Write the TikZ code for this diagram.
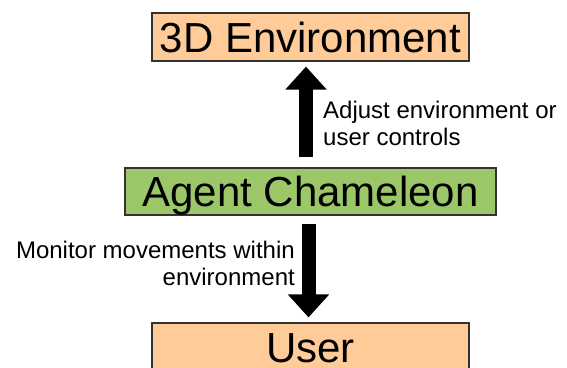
\documentclass[tikz,border=0pt]{standalone}
\usepackage{fontspec}
\setmainfont{Liberation Sans}
\usetikzlibrary{arrows.meta, positioning}
\definecolor{peach}{RGB}{255,204,153}
\definecolor{leaf}{RGB}{155,199,105}
\definecolor{edgegray}{RGB}{50,50,50}

\tikzset{
  block/.style={draw=edgegray, line width=1.2pt, inner sep=0pt, text height=30pt, text depth=0pt,
    font=\fontsize{42}{48}\selectfont},
  flow/.style={line width=14pt, -{Triangle[width=40pt, length=23pt]}},
  note/.style={inner sep=0pt, font=\fontsize{24}{27}\selectfont}
}

\begin{document}
\begin{tikzpicture}[x=1pt, y=-1pt]
  \useasboundingbox (0,0) rectangle (567,367);
  \clip (0,0) rectangle (567,367);
  \fill[white] (0,0) rectangle (567,367);
  % the three layers
  \node[block, fill=peach, minimum width=317pt, minimum height=48pt] (env) at (310.5,37) {3D Environment};
  \node[block, fill=leaf, minimum width=371pt, minimum height=47pt] (agent) at (310.5,191.5) {Agent Chameleon};
  \node[block, fill=peach, minimum width=317pt, minimum height=48pt] (user) at (310.5,347) {User};
  % block arrows between them
  \draw[flow, shorten <=10pt, shorten >=5pt] ([xshift=-4.5pt]agent.north) -- ([xshift=-4.5pt]env.south);
  \draw[flow, shorten <=8pt, shorten >=5pt] ([xshift=-2pt]agent.south) -- ([xshift=-2pt]user.north);
  \node[note, anchor=base west, align=left] (adjust) at (323,145) {Adjust environment or\\user controls};
  \node[note, anchor=base east, align=right] (monitor) at (295,285) {Monitor movements within\\environment};
\end{tikzpicture}
\end{document}
